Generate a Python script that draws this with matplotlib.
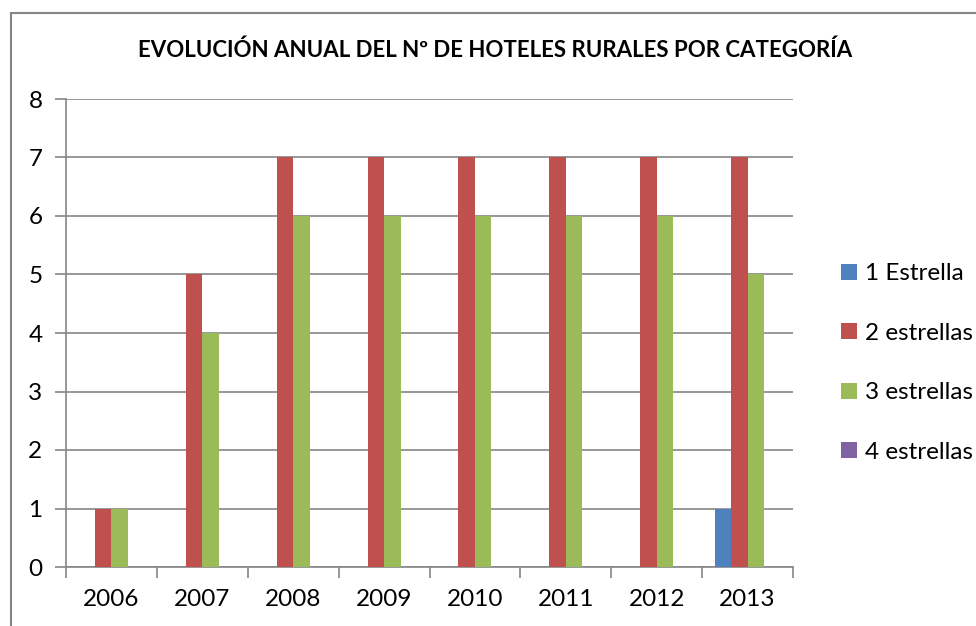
import numpy as np
import matplotlib
matplotlib.use("Agg")
import matplotlib.pyplot as plt
from matplotlib.patches import Rectangle

plt.rcParams['font.family'] = ['Lato', 'DejaVu Sans']

# ── Data ──────────────────────────────────────────────────────────────
years = ["2006", "2007", "2008", "2009", "2010", "2011", "2012", "2013"]
una_estrella = [0, 0, 0, 0, 0, 0, 0, 1]
dos_estrellas = [1, 5, 7, 7, 7, 7, 7, 7]
tres_estrellas = [1, 4, 6, 6, 6, 6, 6, 5]
cuatro_estrellas = [0, 0, 0, 0, 0, 0, 0, 0]

series = [
    ("1 Estrella", una_estrella, "#4f81bd"),
    ("2 estrellas", dos_estrellas, "#c0504d"),
    ("3 estrellas", tres_estrellas, "#9bbb59"),
    ("4 estrellas", cuatro_estrellas, "#8064a2"),
]

W, H = 976, 626
fig = plt.figure(figsize=(W / 100, H / 100), dpi=100)
ax = fig.add_axes([66 / W, 1 - 567 / H, (793 - 66) / W, (567 - 99) / H])

grid_c = "#868686"
x = np.arange(len(years))
bw = 1 / 5.5
for i, (name, vals, col) in enumerate(series):
    ax.bar(x + (i - 1.5) * bw, vals, width=bw, color=col, label=name, zorder=3)

ax.set_xlim(-0.5, len(years) - 0.5)
ax.set_ylim(0, 8)
ax.set_yticks(range(0, 9))
ax.yaxis.grid(True, color=grid_c, lw=1.2, zorder=0)
ax.set_xticks(x)
ax.set_xticklabels(years)
ax.set_xticks(np.arange(-0.5, len(years)), minor=True)
ax.tick_params(axis="x", which="major", length=0, pad=16, labelsize=17.5)
ax.tick_params(axis="x", which="minor", length=8, width=1.2, color=grid_c)
ax.tick_params(axis="y", length=8, width=1.2, color=grid_c, pad=9, labelsize=17.5)
for s in ["top", "right"]:
    ax.spines[s].set_visible(False)
for s in ["left", "bottom"]:
    ax.spines[s].set_color(grid_c)
    ax.spines[s].set_linewidth(1.2)

fig.text(495 / W, 1 - 50 / H, "EVOLUCIÓN ANUAL DEL Nº DE HOTELES RURALES POR CATEGORÍA",
         ha="center", va="center", fontsize=16, fontweight="bold")

fig.legend(loc="center left", bbox_to_anchor=(831 / W, 1 - 363 / H), frameon=False,
           fontsize=17.5, handlelength=0.65, handleheight=0.65, handletextpad=0.35,
           labelspacing=1.58, borderaxespad=0)

fig.add_artist(Rectangle((11 / W, -0.05), 1.1, 1 - 13 / H + 0.05,
                         transform=fig.transFigure, fill=False,
                         edgecolor=grid_c, lw=1.5))

fig.savefig("out.png", dpi=100)
